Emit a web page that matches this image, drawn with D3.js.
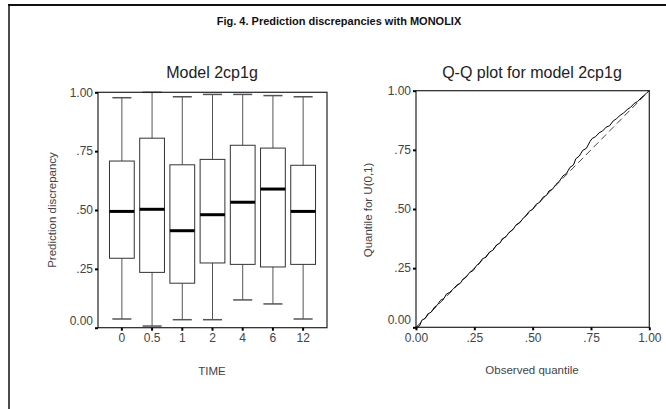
<!DOCTYPE html>
<html>
<head>
<meta charset="utf-8">
<script src="https://cdn.jsdelivr.net/npm/d3@7"></script>
<style>
	body { margin: 0; background: #fff; }
	svg { display: block; font-family: "Liberation Sans", Arial, sans-serif; }
	.tick text { fill: #444; font-size: 12px; }
	.tick line { stroke: #000; stroke-width: 2; }
	.domain { display: none; }
</style>
</head>
<body>
<svg id="chart" width="666" height="409"></svg>
<script>
/*globals d3 */
(function() {
	"use strict";

	// box plot data
	var times = ["0", "0.5", "1", "2", "4", "6", "12"];
	var whiskLow = [0.037, 0.007, 0.034, 0.034, 0.118, 0.101, 0.037];
	var q1 = [0.295, 0.235, 0.189, 0.275, 0.269, 0.258, 0.269];
	var medians = [0.494, 0.503, 0.412, 0.480, 0.533, 0.589, 0.494];
	var q3 = [0.708, 0.805, 0.692, 0.715, 0.775, 0.763, 0.690];
	var whiskHigh = [0.977, 1.000, 0.981, 0.991, 0.991, 0.986, 0.981];

	// Q-Q plot data
	var obsQ = [0.000, 0.015, 0.025, 0.040, 0.050, 0.065, 0.080, 0.090, 0.105, 0.120, 0.130, 0.145,
		0.160, 0.175, 0.190, 0.200, 0.215, 0.230, 0.245, 0.260, 0.270, 0.285, 0.300,
		0.315, 0.330, 0.345, 0.360, 0.370, 0.385, 0.400, 0.415, 0.430, 0.445, 0.460,
		0.470, 0.485, 0.500, 0.515, 0.530, 0.545, 0.560, 0.570, 0.585, 0.600, 0.615,
		0.630, 0.645, 0.660, 0.675, 0.685, 0.700, 0.715, 0.730, 0.745, 0.755, 0.770,
		0.785, 0.800, 0.815, 0.830, 0.845, 0.860, 0.875, 0.890, 0.905, 0.920, 0.935,
		0.950, 0.965, 0.980, 0.990, 1.000];
	var unifQ = [0.000, 0.006, 0.030, 0.038, 0.056, 0.064, 0.086, 0.092, 0.114, 0.122, 0.140, 0.148,
		0.162, 0.178, 0.186, 0.202, 0.212, 0.232, 0.240, 0.262, 0.268, 0.290, 0.296,
		0.318, 0.326, 0.348, 0.356, 0.374, 0.382, 0.402, 0.412, 0.434, 0.442, 0.462,
		0.470, 0.490, 0.498, 0.520, 0.528, 0.550, 0.558, 0.576, 0.584, 0.604, 0.618,
		0.640, 0.650, 0.676, 0.686, 0.712, 0.724, 0.748, 0.756, 0.784, 0.798, 0.806,
		0.822, 0.830, 0.846, 0.852, 0.872, 0.882, 0.896, 0.906, 0.920, 0.930, 0.946,
		0.954, 0.970, 0.982, 0.992, 1.000];

	var yTicks = [0, 0.25, 0.5, 0.75, 1];
	var yTickLabels = ["0.00", ".25", ".50", ".75", "1.00"];
	var xTicksQQ = [0, 0.25, 0.5, 0.75, 1];
	var xTickLabelsQQ = ["0.00", ".25", ".50", ".75", "1.00"];

	var svg = d3.select("#chart");

	// outer frame (top and left only)
	svg.append("line").attr("x1", 8).attr("x2", 666).attr("y1", 5).attr("y2", 5)
		.attr("stroke", "#111").attr("stroke-width", 2);
	svg.append("line").attr("x1", 9).attr("x2", 9).attr("y1", 5).attr("y2", 409)
		.attr("stroke", "#111").attr("stroke-width", 1.5);

	svg.append("text")
		.attr("x", 339).attr("y", 25)
		.attr("text-anchor", "middle")
		.attr("font-weight", "bold")
		.attr("font-size", "11px")
		.attr("fill", "#111")
		.text("Fig. 4. Prediction discrepancies with MONOLIX");

	function yAxis(g, y) {
		g.call(d3.axisLeft(y).tickValues(yTicks).tickSize(3).tickPadding(2)
			.tickFormat(function(d, i) { return yTickLabels[i]; }));
		g.selectAll(".tick text")
			.attr("dy", function(d) { return d === 0 ? "-0.3em" : "0.32em"; });
	}

	function frame(g, x0, x1, y0, y1) {
		g.append("rect")
			.attr("x", x0).attr("y", y0)
			.attr("width", x1 - x0).attr("height", y1 - y0)
			.attr("fill", "none").attr("stroke", "#222").attr("stroke-width", 1.2);
	}

	function label(g, x, y, txt, size, rot) {
		var t = g.append("text")
			.attr("text-anchor", "middle")
			.attr("fill", size > 12 ? "#222" : "#444")
			.attr("font-size", size + "px")
			.text(txt);
		if(rot) {
			t.attr("transform", "translate(" + x + "," + y + ") rotate(-90)");
		} else {
			t.attr("x", x).attr("y", y);
		}
	}

	// ---- left panel: box plots ----
	(function() {
		var g = svg.append("g");
		var x = d3.scaleBand().domain(times).range([98, 327])
			.paddingInner(0.18).paddingOuter(0.38);
		var y = d3.scaleLinear().domain([0, 1]).range([327.7, 92.3]);
		var bw = x.bandwidth(), cap = bw * 0.77;

		var boxes = times.map(function(t, i) {
			return { t: t, lo: whiskLow[i], q1: q1[i], med: medians[i], q3: q3[i], hi: whiskHigh[i] };
		});

		var b = g.selectAll("g.box").data(boxes).enter().append("g").attr("class", "box")
			.attr("transform", function(d) { return "translate(" + (x(d.t) + bw / 2) + ",0)"; });
		b.append("line").attr("x1", 0).attr("x2", 0)
			.attr("y1", function(d) { return y(d.hi); })
			.attr("y2", function(d) { return y(d.lo); })
			.attr("stroke", "#555");
		b.selectAll("line.cap").data(function(d) { return [d.lo, d.hi]; }).enter()
			.append("line").attr("class", "cap")
			.attr("x1", -cap / 2).attr("x2", cap / 2)
			.attr("y1", function(v) { return y(v); }).attr("y2", function(v) { return y(v); })
			.attr("stroke", "#555").attr("stroke-width", 1.5);
		b.append("rect")
			.attr("x", -bw / 2).attr("width", bw)
			.attr("y", function(d) { return y(d.q3); })
			.attr("height", function(d) { return y(d.q1) - y(d.q3); })
			.attr("fill", "#fff").attr("stroke", "#333");
		b.append("line")
			.attr("x1", -bw / 2).attr("x2", bw / 2)
			.attr("y1", function(d) { return y(d.med); }).attr("y2", function(d) { return y(d.med); })
			.attr("stroke", "#000").attr("stroke-width", 3);

		frame(g, 98, 327, 92.3, 327.7);
		g.append("g").attr("transform", "translate(98,0)").call(yAxis, y);
		g.append("g").attr("transform", "translate(0,327.7)")
			.call(d3.axisBottom(x).tickSize(3).tickPadding(3));

		label(g, 212, 78, "Model 2cp1g", 16);
		label(g, 212, 375, "TIME", 11.5);
		label(g, 56, 210, "Prediction discrepancy", 11.5, true);
	}());

	// ---- right panel: Q-Q plot ----
	(function() {
		var g = svg.append("g");
		var x = d3.scaleLinear().domain([0, 1]).range([416, 649.3]);
		var y = d3.scaleLinear().domain([0, 1]).range([327.3, 90.7]);

		g.append("line")
			.attr("x1", x(0)).attr("y1", y(0)).attr("x2", x(1)).attr("y2", y(1))
			.attr("stroke", "#444").attr("stroke-dasharray", "7,4");
		var pts = obsQ.map(function(v, i) { return [v, unifQ[i]]; });
		g.append("path").datum(pts)
			.attr("fill", "none").attr("stroke", "#000").attr("stroke-width", 1)
			.attr("d", d3.line().x(function(d) { return x(d[0]); }).y(function(d) { return y(d[1]); }));

		frame(g, 416, 649.3, 90.7, 327.3);
		g.append("g").attr("transform", "translate(416,0)").call(yAxis, y);
		g.append("g").attr("transform", "translate(0,327.3)")
			.call(d3.axisBottom(x).tickValues(xTicksQQ).tickSize(3).tickPadding(3)
				.tickFormat(function(d, i) { return xTickLabelsQQ[i]; }));

		label(g, 532, 78, "Q-Q plot for model 2cp1g", 16);
		label(g, 532, 374, "Observed quantile", 11.5);
		label(g, 372, 210, "Quantile for U(0,1)", 11.5, true);
	}());
}());
</script>
</body>
</html>
